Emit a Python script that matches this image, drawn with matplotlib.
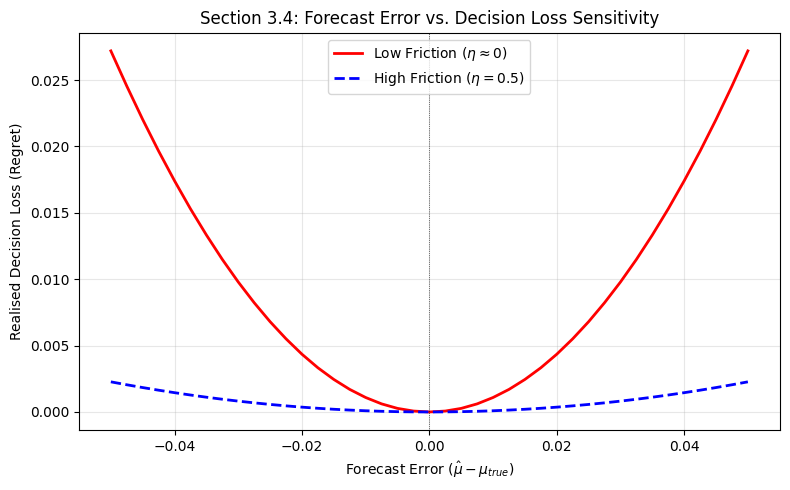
import matplotlib
matplotlib.use("Agg")
import matplotlib.pyplot as plt

# Forecast error values (x), step 0.0025
forecast_error = [-0.0500, -0.0475, -0.0450, -0.0425, -0.0400, -0.0375, -0.0350, -0.0325, -0.0300, -0.0275,
                  -0.0250, -0.0225, -0.0200, -0.0175, -0.0150, -0.0125, -0.0100, -0.0075, -0.0050, -0.0025,
                  0.0000,
                  0.0025, 0.0050, 0.0075, 0.0100, 0.0125, 0.0150, 0.0175, 0.0200, 0.0225, 0.0250,
                  0.0275, 0.0300, 0.0325, 0.0350, 0.0375, 0.0400, 0.0425, 0.0450, 0.0475, 0.0500]

# Low friction regret
low_friction = [0.02720, 0.02455, 0.02203, 0.01965, 0.01741, 0.01530, 0.01333, 0.01149, 0.00979, 0.00823,
                0.00680, 0.00551, 0.00435, 0.00333, 0.00245, 0.00170, 0.00109, 0.00061, 0.00027, 0.00007,
                0.00000,
                0.00007, 0.00027, 0.00061, 0.00109, 0.00170, 0.00245, 0.00333, 0.00435, 0.00551, 0.00680,
                0.00823, 0.00979, 0.01149, 0.01333, 0.01530, 0.01741, 0.01965, 0.02203, 0.02455, 0.02720]

# High friction regret
high_friction = [0.002270, 0.002049, 0.001839, 0.001640, 0.001453, 0.001277, 0.001112, 0.000959, 0.000817, 0.000687,
                 0.000568, 0.000460, 0.000363, 0.000278, 0.000204, 0.000142, 0.000091, 0.000051, 0.000023, 0.000006,
                 0.000000,
                 0.000006, 0.000023, 0.000051, 0.000091, 0.000142, 0.000204, 0.000278, 0.000363, 0.000460, 0.000568,
                 0.000687, 0.000817, 0.000959, 0.001112, 0.001277, 0.001453, 0.001640, 0.001839, 0.002049, 0.002270]

fig, ax = plt.subplots(figsize=(7.9, 4.9), dpi=100)
ax.plot(forecast_error, low_friction, color='red', lw=2, label=r'Low Friction ($\eta \approx 0$)')
ax.plot(forecast_error, high_friction, color='blue', lw=2, ls='--', label=r'High Friction ($\eta = 0.5$)')
ax.axvline(0, color='black', lw=0.5, ls=':')
ax.set_title('Section 3.4: Forecast Error vs. Decision Loss Sensitivity')
ax.set_xlabel(r'Forecast Error ($\hat{\mu} - \mu_{true}$)')
ax.set_ylabel('Realised Decision Loss (Regret)')
ax.grid(True, alpha=0.3)
ax.legend(loc='upper center')
fig.subplots_adjust(left=0.100, right=0.987, top=0.933, bottom=0.1224)
fig.savefig('out.png')
